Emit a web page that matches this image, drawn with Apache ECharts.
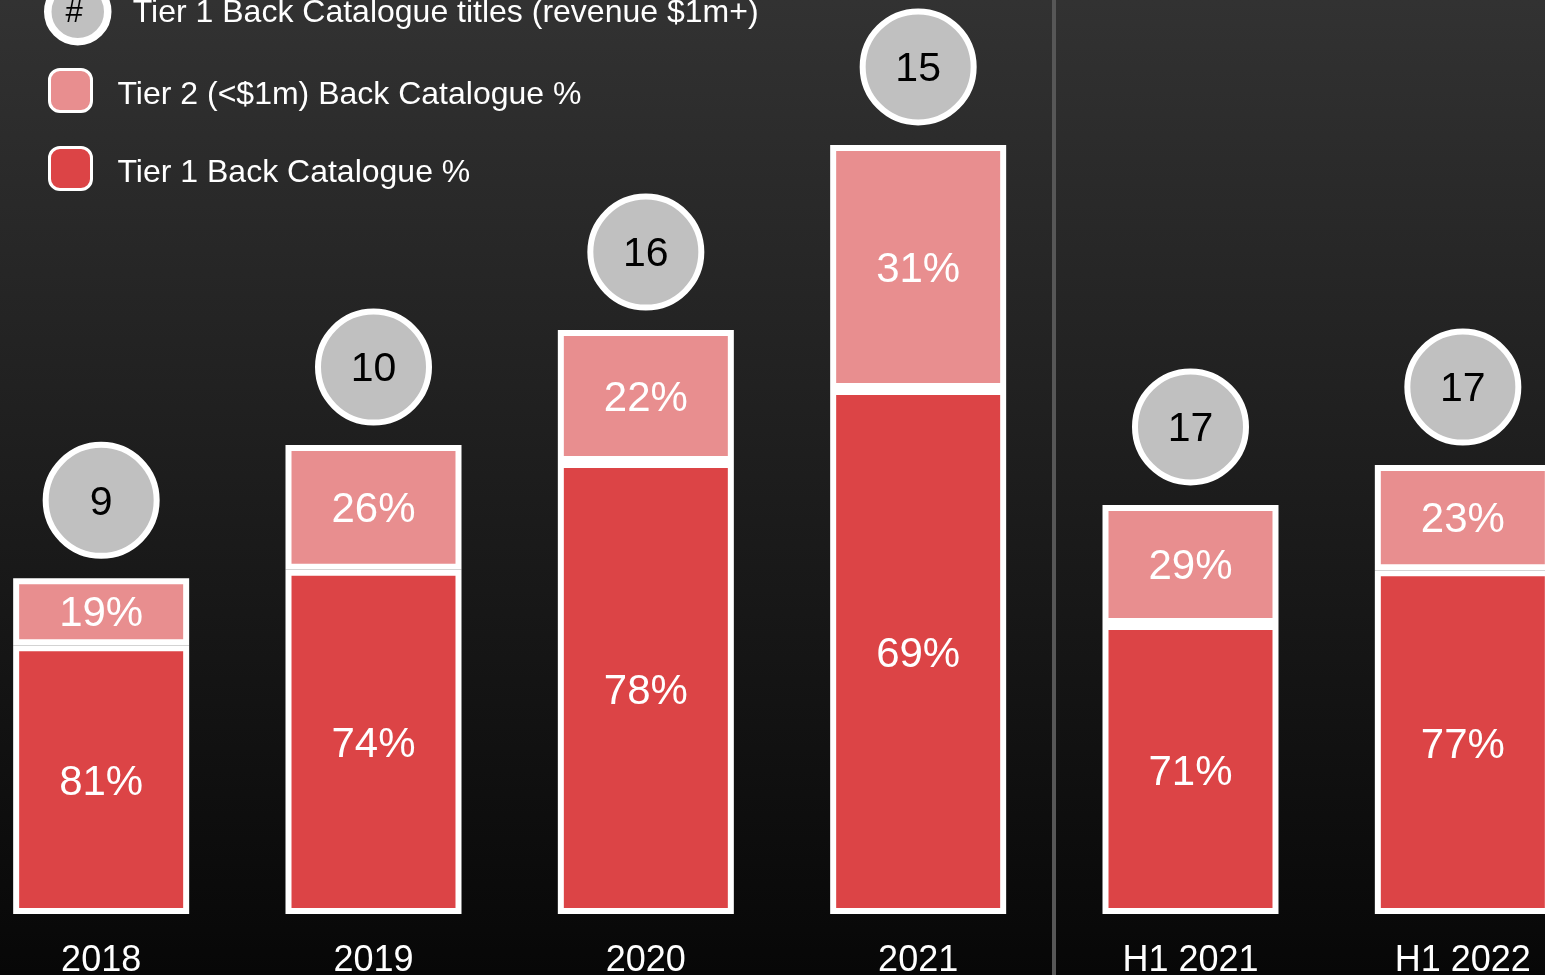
<!DOCTYPE html>
<html>
<head>
<meta charset="utf-8">
<script src="https://cdn.jsdelivr.net/npm/echarts@6/dist/echarts.min.js"></script>
<style>
html,body{margin:0;padding:0;background:#000;}
#chart{width:1545px;height:975px;}
</style>
</head>
<body>
<div id="chart"></div>
<script>
const categories = ['2018', '2019', '2020', '2021', 'H1 2021', 'H1 2022'];
const tier1Values = [29.40, 37.67, 49.45, 57.44, 31.73, 37.60];
const tier2Values = [7.33, 13.64, 14.44, 26.70, 13.02, 11.52];
const tier1Pct = [81, 74, 78, 69, 71, 77];
const tier2Pct = [19, 26, 22, 31, 29, 23];
const tier1Titles = [9, 10, 16, 15, 17, 17];

const FONT = "'Liberation Sans', Arial, sans-serif";
const NAME_T1 = 'Tier 1 Back Catalogue %';
const NAME_T2 = 'Tier 2 (<$1m) Back Catalogue %';
const NAME_TITLES = 'Tier 1 Back Catalogue titles (revenue $1m+)';

const totals = tier1Values.map((v, i) => v + tier2Values[i]);

const chart = echarts.init(document.getElementById('chart'));
const option = {
  animation: false,
  backgroundColor: {
    type: 'linear', x: 0, y: 0, x2: 0, y2: 1,
    colorStops: [{offset: 0, color: '#323232'}, {offset: 1, color: '#070707'}]
  },
  textStyle: {fontFamily: FONT},
  grid: {left: -35, right: -54, top: 0, bottom: 61, containLabel: false, outerBoundsMode: 'none'},
  legend: [
    {
      data: [NAME_TITLES],
      orient: 'vertical',
      left: 44, top: -22, padding: 0,
      icon: 'circle',
      itemWidth: 60, itemHeight: 60,
      itemStyle: {color: '#c0c0c0', borderColor: '#ffffff', borderWidth: 7.5},
      formatter: name => '{t|' + name + '}',
      textStyle: {
        color: '#ffffff', fontSize: 32, fontFamily: FONT,
        rich: {t: {color: '#ffffff', fontSize: 32, fontFamily: FONT, padding: [2, 0, 0, 20]}}
      },
      selectedMode: false
    },
    {
      data: [NAME_T2, NAME_T1],
      orient: 'vertical',
      left: 48, top: 68, padding: 0,
      icon: 'roundRect',
      itemWidth: 42, itemHeight: 42, itemGap: 33,
      itemStyle: {borderColor: '#ffffff', borderWidth: 3},
      formatter: name => '{t|' + name + '}',
      textStyle: {
        color: '#ffffff', fontSize: 32, fontFamily: FONT,
        rich: {t: {color: '#ffffff', fontSize: 32, fontFamily: FONT, padding: [9, 0, 0, 21]}}
      },
      selectedMode: false
    }
  ],
  xAxis: {
    type: 'category',
    data: categories,
    axisLine: {show: false},
    axisTick: {show: false},
    axisLabel: {color: '#ffffff', fontSize: 36, fontFamily: FONT, margin: 29}
  },
  yAxis: {
    type: 'value', min: 0, max: 100, show: false,
    splitLine: {show: false}
  },
  series: [
    {
      name: NAME_T1,
      type: 'bar',
      stack: 'cat',
      barWidth: 176,
      data: tier1Values,
      itemStyle: {color: '#dc4446', borderColor: '#ffffff', borderWidth: 6},
      label: {
        show: true, position: 'inside', offset: [0, 4], color: '#ffffff', fontSize: 42, fontFamily: FONT,
        formatter: p => tier1Pct[p.dataIndex] + '%'
      }
    },
    {
      name: NAME_T2,
      type: 'bar',
      stack: 'cat',
      barWidth: 176,
      data: tier2Values,
      itemStyle: {color: '#e88e8f', borderColor: '#ffffff', borderWidth: 6},
      label: {
        show: true, position: 'inside', offset: [0, 3], color: '#ffffff', fontSize: 42, fontFamily: FONT,
        formatter: p => tier2Pct[p.dataIndex] + '%'
      }
    },
    {
      name: NAME_TITLES,
      type: 'scatter',
      data: totals,
      symbol: 'circle',
      symbolSize: 111,
      symbolOffset: [0, -78],
      clip: false,
      itemStyle: {color: '#c0c0c0', borderColor: '#ffffff', borderWidth: 6, opacity: 1},
      label: {
        show: true, position: 'inside', offset: [0, 3], color: '#000000', fontSize: 41, fontFamily: FONT,
        formatter: p => String(tier1Titles[p.dataIndex])
      },
      z: 3
    }
  ]
};
chart.setOption(option);

const xA = chart.convertToPixel({xAxisIndex: 0}, categories[3]);
const xB = chart.convertToPixel({xAxisIndex: 0}, categories[4]);
const sepX = Math.round((xA + xB) / 2);
chart.setOption({
  graphic: [
    {
      type: 'line', z: 1,
      shape: {x1: sepX, y1: 0, x2: sepX, y2: 975},
      style: {stroke: '#575757', lineWidth: 4}
    },
    {
      type: 'text', z: 100,
      x: 74, y: 13,
      style: {text: '#', fill: '#000000', font: '31px ' + FONT, align: 'center', verticalAlign: 'middle'}
    }
  ]
});
</script>
</body>
</html>
